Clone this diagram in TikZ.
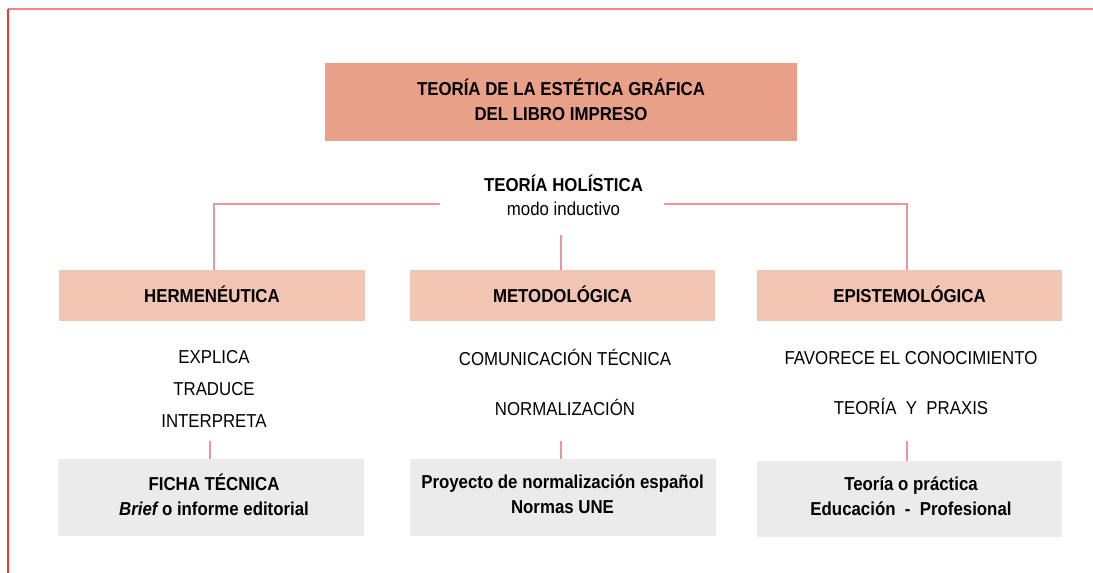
\documentclass[tikz,border=0pt]{standalone}
\usepackage{fontspec}
\setmainfont[FakeStretch=0.9]{Liberation Sans}
\definecolor{salmon}{HTML}{E9A089}
\definecolor{peach}{HTML}{F2C4B2}
\definecolor{greybox}{HTML}{EBEBEB}
\definecolor{linkc}{HTML}{E89898}
\definecolor{topline}{HTML}{F08686}
\definecolor{leftline}{HTML}{FF3030}
\tikzset{
  txt/.style={inner sep=0pt, align=center, text=black},
  fs/.style={font=\fontsize{18.7bp}{#1}\selectfont},
  fsb/.style={font=\fontsize{18.7bp}{#1}\selectfont\bfseries},
  titlebox/.style={inner sep=0pt, fill=salmon, minimum width=472bp, minimum height=78bp},
  levelbox/.style={txt, fill=peach, fsb=25bp, minimum width=305bp, minimum height=51bp, text height=13.4bp, text depth=0pt},
  greyfill/.style={inner sep=0pt, fill=greybox, minimum width=306bp, minimum height=77bp},
  boxtext/.style={txt, fsb=25bp, yshift=3bp},
  link/.style={draw=linkc, line width=1.1bp},
}
\begin{document}
\begin{tikzpicture}[x=1bp, y=-1bp]
\useasboundingbox (0,0) rectangle (1093,573);
% frame
\draw[topline, line width=1.8bp] (8,9) -- (1093,9);
\draw[leftline, line width=1.4bp] (8,9) -- (8,573);

% title
\node[titlebox] (title) at (561,102) {};
\node[txt, fsb=25bp, yshift=2.5bp] (titletxt) at (title.center) {TEORÍA DE LA ESTÉTICA GRÁFICA\\DEL LIBRO IMPRESO};

% holistic
\node[txt, fs=24.5bp] (hol) at (563.5,195.5) {\textbf{TEORÍA HOLÍSTICA}\\modo inductivo};

% level boxes
\node[levelbox] (herm) at (212,295.5) {HERMENÉUTICA};
\node[levelbox] (meto) at (562.5,295.5) {METODOLÓGICA};
\node[levelbox] (epis) at (909.5,295.5) {EPISTEMOLÓGICA};

% item lists
\node[txt, fs=32bp] (hitems) at (214,389) {EXPLICA\\TRADUCE\\INTERPRETA};
\node[txt, fs=50bp] (mitems) at (565,382) {COMUNICACIÓN TÉCNICA\\NORMALIZACIÓN};
\node[txt, fs=50bp] (eitems) at (911,383) {FAVORECE EL CONOCIMIENTO\\TEORÍA \ Y \ PRAXIS};

% bottom boxes
\node[greyfill] (ficha) at (211,497.5) {};
\node[boxtext] (fichatxt) at (214,497.5) {FICHA TÉCNICA\\\textit{Brief}\kern-1.5bp\ o informe editorial};
\node[greyfill] (proy) at (562.5,497.5) {};
\node[boxtext] (proytxt) at (proy.center) {Proyecto de normalización español\\Normas UNE};
\node[greyfill, minimum width=305bp, minimum height=76bp] (teo) at (909.5,499) {};
\node[boxtext] (teotxt) at (911,499) {Teoría o práctica\\Educación \ - \ Profesional};

% connector coordinates
\coordinate (hl) at (440,204);
\coordinate (hr) at (664,204);
\coordinate (hm) at (561,235);
\coordinate (c1) at (210,441);
\coordinate (c2) at (561,441);
\coordinate (c3) at (907,441);

\draw[link] (hl) -| ([xshift=2bp]herm.north);
\draw[link] (hr) -| ([xshift=-2.5bp]epis.north);
\draw[link] (hm) -- (hm |- meto.north);
\draw[link] (c1) -- (c1 |- ficha.north);
\draw[link] (c2) -- (c2 |- proy.north);
\draw[link] (c3) -- (c3 |- teo.north);
\end{tikzpicture}
\end{document}
